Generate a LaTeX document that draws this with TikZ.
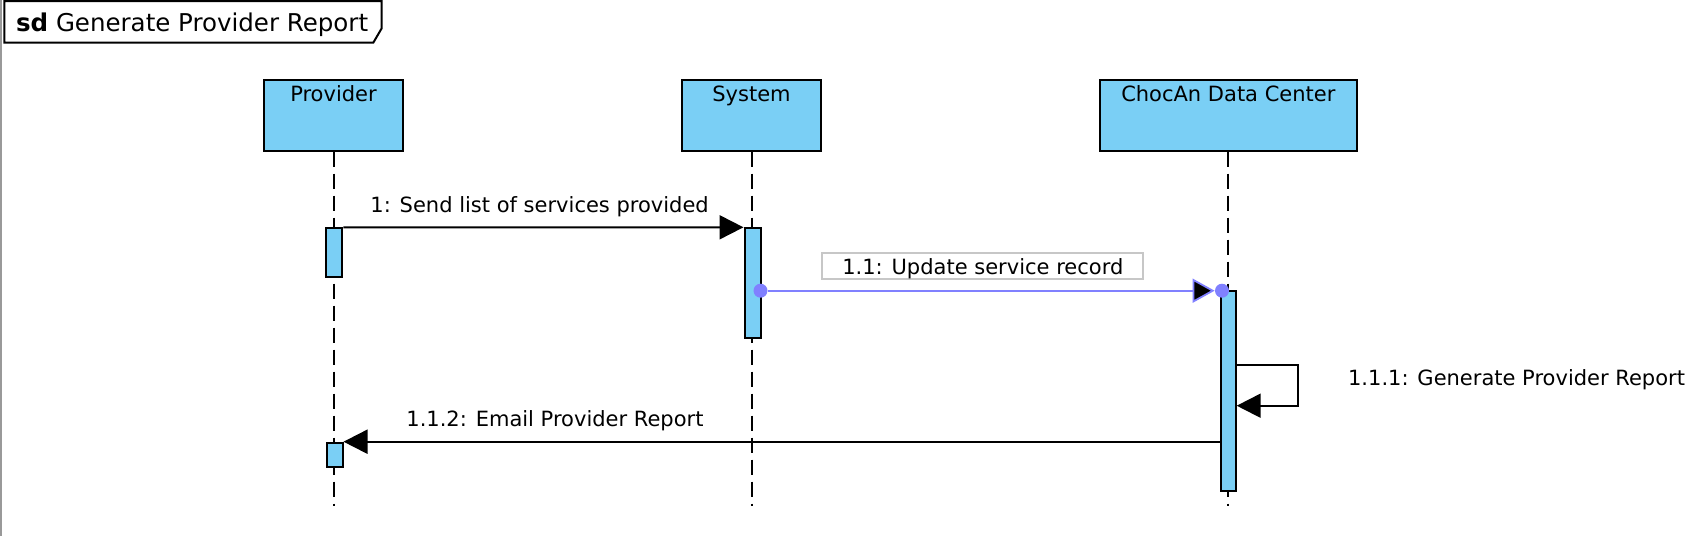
\documentclass[tikz,border=0pt]{standalone}
\usepackage{fontspec}
\setmainfont{DejaVu Sans}
\usetikzlibrary{arrows.meta,calc}
\definecolor{lifeblue}{RGB}{122,207,245}
\definecolor{msgblue}{RGB}{128,128,255}
\begin{document}
\begin{tikzpicture}[x=0.5pt,y=-0.5pt,
  font=\fontsize{10.5pt}{12pt}\selectfont,
  lifebox/.style={draw=black, line width=1pt, fill=lifeblue, inner sep=0pt, minimum height=35.35pt},
  actbar/.style={draw=black, line width=1pt, fill=lifeblue, inner sep=0pt, minimum width=8pt},
  txt/.style={inner sep=0pt, anchor=base west},
  boxtxt/.style={inner sep=0pt, anchor=base},
  lifeline/.style={line width=1pt, dash pattern=on 7.5pt off 3.5pt},
  msg/.style={line width=1pt, -{Triangle[length=12pt,width=12pt]}},
  bluemsg/.style={draw=msgblue, line width=0.9pt, -{Triangle[length=11pt,width=12pt,fill=black]}},
  dotnode/.style={circle, fill=msgblue, inner sep=0pt, minimum size=7pt},
  lblbox/.style={draw=black!22, line width=1pt, inner sep=0pt, minimum width=160.5pt, minimum height=13.3pt, text height=8pt, text depth=0pt}
]
\useasboundingbox (0,0) rectangle (1704,536);
% frame
\draw[black!40, line width=1pt] (1,0) -- (1,536);
\draw[line width=1pt, fill=white] (4.3,1) -- (381.7,1) -- (381.7,28.3) -- (373.3,42.7) -- (4.3,42.7) -- cycle;
\node[txt, font=\fontsize{12.25pt}{14pt}\selectfont] (title) at (15.7,31.7) {\textbf{sd} Generate Provider Report};

% lifeline heads
\node[lifebox, minimum width=69.5pt] (prov) at (333.5,115.35) {};
\node[lifebox, minimum width=69.2pt] (sys) at (751.5,115.35) {};
\node[lifebox, minimum width=128.35pt] (choc) at (1228.35,115.35) {};
\node[boxtxt] (provt) at (333.5,101.9) {Provider};
\node[boxtxt] (syst) at (751.5,101.9) {System};
\node[boxtxt] (choct) at (1228.35,101.9) {ChocAn Data Center};

% lifelines
\coordinate (provend) at (prov.south |- 0,506);
\coordinate (sysend) at (sys.south |- 0,506);
\coordinate (chocend) at (choc.south |- 0,506);
\draw[lifeline] (prov.south) -- (provend);
\draw[lifeline] (sys.south) -- (sysend);
\draw[lifeline] (choc.south) -- (chocend);

% activation bars
\node[actbar, minimum height=24.2pt] (pb1) at (334.3,252.5) {};
\node[actbar, minimum height=55pt] (sb) at (752.5,283.3) {};
\node[actbar, minimum height=100.15pt, minimum width=7.5pt] (cb) at (1228.2,390.85) {};
\node[actbar, minimum height=12pt] (pb2) at (334.5,454.7) {};

% message 1
\draw[msg] (pb1.north east) -- (sb.north west);
\node[txt] (m1) at (370,212) {1: Send list of services provided};

% message 1.1
\node[dotnode] (d2) at (1222,290.7) {};
\node[dotnode] (d1) at (760.5,290.7) {};
\draw[bluemsg] (d1) -- (d2);
\node[lblbox] (m2) at (982.8,266) {1.1: Update service record};

% message 1.1.1 (self)
\coordinate (s1) at ($(cb.north east)+(0,75.3)$);
\coordinate (s4) at ($(cb.north east)+(0,116)$);
\draw[msg] (s1) -- ++(61,0) |- (s4);
\node[txt] (m3) at (1347.7,385) {1.1.1: Generate Provider Report};

% message 1.1.2
\draw[msg] (cb.west |- pb2.north) -- (pb2.north east);
\node[txt] (m4) at (406,426) {1.1.2: Email Provider Report};
\end{tikzpicture}
\end{document}
